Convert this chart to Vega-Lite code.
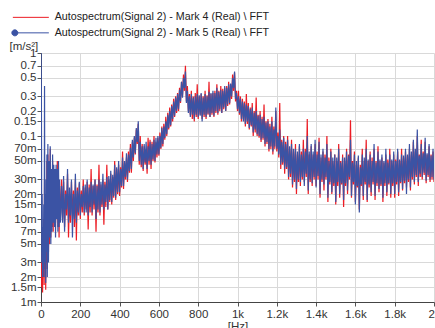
{
  "$schema": "https://vega.github.io/schema/vega-lite/v6.json",
  "width": 393,
  "height": 249,
  "autosize": {"type": "none"},
  "padding": {"left": 41, "top": 53, "right": 1, "bottom": 26},
  "background": "white",
  "config": {
    "view": {"stroke": null},
    "font": "Liberation Sans"
  },
  "data": {
    "values": [
      {"f":0,"r":0.003,"b":1.0},
      {"f":2,"r":0.002,"b":0.3},
      {"f":4,"r":0.0015,"b":0.003},
      {"f":6,"r":0.004,"b":0.02},
      {"f":8,"r":0.0013,"b":0.002},
      {"f":10,"r":0.006,"b":0.008},
      {"f":12,"r":0.002,"b":0.0025},
      {"f":14,"r":0.01,"b":0.015},
      {"f":16,"r":0.0016,"b":0.002},
      {"f":18,"r":0.03,"b":0.4},
      {"f":20,"r":0.0025,"b":0.003},
      {"f":22,"r":0.015,"b":0.02},
      {"f":24,"r":0.0014,"b":0.0017},
      {"f":26,"r":0.012,"b":0.03},
      {"f":28,"r":0.003,"b":0.004},
      {"f":30,"r":0.05,"b":0.06},
      {"f":32,"r":0.0025,"b":0.002},
      {"f":35,"r":0.06,"b":0.08},
      {"f":38,"r":0.004,"b":0.003},
      {"f":41,"r":0.04,"b":0.05},
      {"f":44,"r":0.005,"b":0.006},
      {"f":47,"r":0.07,"b":0.075},
      {"f":50,"r":0.006,"b":0.005},
      {"f":53,"r":0.03,"b":0.04},
      {"f":56,"r":0.008,"b":0.007},
      {"f":59,"r":0.05,"b":0.06},
      {"f":62,"r":0.007,"b":0.009},
      {"f":65,"r":0.04,"b":0.045},
      {"f":68,"r":0.01,"b":0.008},
      {"f":71,"r":0.035,"b":0.04},
      {"f":74,"r":0.009,"b":0.006},
      {"f":77,"r":0.03,"b":0.045},
      {"f":80,"r":0.012,"b":0.01},
      {"f":83,"r":0.05,"b":0.04},
      {"f":86,"r":0.008,"b":0.007},
      {"f":89,"r":0.03,"b":0.05},
      {"f":92,"r":0.006,"b":0.008},
      {"f":95,"r":0.025,"b":0.03},
      {"f":98,"r":0.01,"b":0.009},
      {"f":100,"r":0.012,"b":0.010},
      {"f":105,"r":0.030,"b":0.025},
      {"f":110,"r":0.010,"b":0.009},
      {"f":115,"r":0.028,"b":0.033},
      {"f":120,"r":0.008,"b":0.007},
      {"f":125,"r":0.022,"b":0.020},
      {"f":130,"r":0.011,"b":0.013},
      {"f":135,"r":0.035,"b":0.040},
      {"f":140,"r":0.006,"b":0.009},
      {"f":145,"r":0.020,"b":0.024},
      {"f":150,"r":0.009,"b":0.011},
      {"f":155,"r":0.028,"b":0.030},
      {"f":160,"r":0.010,"b":0.006},
      {"f":165,"r":0.022,"b":0.020},
      {"f":170,"r":0.008,"b":0.010},
      {"f":175,"r":0.030,"b":0.035},
      {"f":180,"r":0.0055,"b":0.009},
      {"f":185,"r":0.024,"b":0.022},
      {"f":190,"r":0.011,"b":0.012},
      {"f":195,"r":0.027,"b":0.028},
      {"f":200,"r":0.010,"b":0.011},
      {"f":205,"r":0.022,"b":0.020},
      {"f":210,"r":0.012,"b":0.014},
      {"f":215,"r":0.030,"b":0.025},
      {"f":220,"r":0.011,"b":0.012},
      {"f":225,"r":0.024,"b":0.026},
      {"f":230,"r":0.013,"b":0.012},
      {"f":235,"r":0.028,"b":0.030},
      {"f":240,"r":0.0075,"b":0.011},
      {"f":245,"r":0.026,"b":0.024},
      {"f":250,"r":0.012,"b":0.014},
      {"f":255,"r":0.040,"b":0.028},
      {"f":260,"r":0.011,"b":0.012},
      {"f":265,"r":0.025,"b":0.026},
      {"f":270,"r":0.013,"b":0.015},
      {"f":275,"r":0.030,"b":0.030},
      {"f":280,"r":0.007,"b":0.010},
      {"f":285,"r":0.026,"b":0.025},
      {"f":290,"r":0.012,"b":0.013},
      {"f":295,"r":0.045,"b":0.030},
      {"f":300,"r":0.011,"b":0.012},
      {"f":305,"r":0.026,"b":0.028},
      {"f":310,"r":0.014,"b":0.015},
      {"f":315,"r":0.030,"b":0.035},
      {"f":320,"r":0.0085,"b":0.013},
      {"f":325,"r":0.028,"b":0.026},
      {"f":330,"r":0.014,"b":0.016},
      {"f":335,"r":0.045,"b":0.032},
      {"f":340,"r":0.013,"b":0.013},
      {"f":345,"r":0.030,"b":0.033},
      {"f":350,"r":0.016,"b":0.017},
      {"f":355,"r":0.035,"b":0.038},
      {"f":360,"r":0.015,"b":0.016},
      {"f":365,"r":0.032,"b":0.034},
      {"f":370,"r":0.018,"b":0.019},
      {"f":375,"r":0.050,"b":0.045},
      {"f":380,"r":0.017,"b":0.018},
      {"f":385,"r":0.040,"b":0.042},
      {"f":390,"r":0.020,"b":0.021},
      {"f":395,"r":0.045,"b":0.050},
      {"f":400,"r":0.019,"b":0.021},
      {"f":405,"r":0.042,"b":0.040},
      {"f":410,"r":0.024,"b":0.025},
      {"f":415,"r":0.065,"b":0.055},
      {"f":420,"r":0.023,"b":0.025},
      {"f":425,"r":0.048,"b":0.050},
      {"f":430,"r":0.030,"b":0.032},
      {"f":435,"r":0.055,"b":0.062},
      {"f":440,"r":0.028,"b":0.030},
      {"f":445,"r":0.065,"b":0.060},
      {"f":450,"r":0.036,"b":0.038},
      {"f":455,"r":0.080,"b":0.072},
      {"f":460,"r":0.036,"b":0.040},
      {"f":465,"r":0.085,"b":0.090},
      {"f":470,"r":0.050,"b":0.055},
      {"f":475,"r":0.095,"b":0.100},
      {"f":480,"r":0.060,"b":0.062},
      {"f":485,"r":0.120,"b":0.125},
      {"f":490,"r":0.080,"b":0.085},
      {"f":495,"r":0.140,"b":0.150},
      {"f":500,"r":0.045,"b":0.050},
      {"f":505,"r":0.100,"b":0.085},
      {"f":510,"r":0.042,"b":0.045},
      {"f":515,"r":0.080,"b":0.075},
      {"f":520,"r":0.038,"b":0.040},
      {"f":525,"r":0.075,"b":0.080},
      {"f":530,"r":0.045,"b":0.048},
      {"f":535,"r":0.070,"b":0.085},
      {"f":540,"r":0.035,"b":0.040},
      {"f":545,"r":0.095,"b":0.075},
      {"f":550,"r":0.045,"b":0.050},
      {"f":555,"r":0.090,"b":0.085},
      {"f":560,"r":0.040,"b":0.045},
      {"f":565,"r":0.085,"b":0.080},
      {"f":570,"r":0.050,"b":0.052},
      {"f":575,"r":0.100,"b":0.090},
      {"f":580,"r":0.048,"b":0.050},
      {"f":585,"r":0.085,"b":0.095},
      {"f":590,"r":0.055,"b":0.060},
      {"f":595,"r":0.095,"b":0.100},
      {"f":600,"r":0.058,"b":0.060},
      {"f":605,"r":0.110,"b":0.100},
      {"f":610,"r":0.070,"b":0.072},
      {"f":615,"r":0.130,"b":0.125},
      {"f":620,"r":0.075,"b":0.080},
      {"f":625,"r":0.140,"b":0.130},
      {"f":630,"r":0.090,"b":0.095},
      {"f":635,"r":0.170,"b":0.150},
      {"f":640,"r":0.100,"b":0.105},
      {"f":645,"r":0.190,"b":0.180},
      {"f":650,"r":0.120,"b":0.125},
      {"f":655,"r":0.220,"b":0.200},
      {"f":660,"r":0.130,"b":0.135},
      {"f":665,"r":0.240,"b":0.230},
      {"f":670,"r":0.150,"b":0.160},
      {"f":675,"r":0.280,"b":0.260},
      {"f":680,"r":0.170,"b":0.175},
      {"f":685,"r":0.300,"b":0.290},
      {"f":690,"r":0.190,"b":0.200},
      {"f":695,"r":0.330,"b":0.320},
      {"f":700,"r":0.200,"b":0.210},
      {"f":705,"r":0.380,"b":0.360},
      {"f":710,"r":0.250,"b":0.260},
      {"f":715,"r":0.450,"b":0.450},
      {"f":720,"r":0.300,"b":0.290},
      {"f":725,"r":0.550,"b":0.500},
      {"f":730,"r":0.350,"b":0.380},
      {"f":735,"r":0.700,"b":0.600},
      {"f":740,"r":0.260,"b":0.250},
      {"f":745,"r":0.400,"b":0.350},
      {"f":750,"r":0.200,"b":0.190},
      {"f":755,"r":0.320,"b":0.300},
      {"f":760,"r":0.180,"b":0.170},
      {"f":765,"r":0.350,"b":0.320},
      {"f":770,"r":0.160,"b":0.180},
      {"f":775,"r":0.300,"b":0.290},
      {"f":780,"r":0.150,"b":0.160},
      {"f":785,"r":0.330,"b":0.300},
      {"f":790,"r":0.170,"b":0.180},
      {"f":795,"r":0.420,"b":0.320},
      {"f":800,"r":0.160,"b":0.170},
      {"f":805,"r":0.300,"b":0.310},
      {"f":810,"r":0.180,"b":0.175},
      {"f":815,"r":0.320,"b":0.330},
      {"f":820,"r":0.160,"b":0.150},
      {"f":825,"r":0.300,"b":0.290},
      {"f":830,"r":0.170,"b":0.180},
      {"f":835,"r":0.350,"b":0.320},
      {"f":840,"r":0.160,"b":0.170},
      {"f":845,"r":0.310,"b":0.300},
      {"f":850,"r":0.180,"b":0.185},
      {"f":855,"r":0.450,"b":0.340},
      {"f":860,"r":0.170,"b":0.170},
      {"f":865,"r":0.320,"b":0.330},
      {"f":870,"r":0.180,"b":0.190},
      {"f":875,"r":0.330,"b":0.350},
      {"f":880,"r":0.170,"b":0.175},
      {"f":885,"r":0.350,"b":0.330},
      {"f":890,"r":0.190,"b":0.200},
      {"f":895,"r":0.420,"b":0.380},
      {"f":900,"r":0.180,"b":0.190},
      {"f":905,"r":0.350,"b":0.340},
      {"f":910,"r":0.200,"b":0.210},
      {"f":915,"r":0.400,"b":0.360},
      {"f":920,"r":0.190,"b":0.190},
      {"f":925,"r":0.370,"b":0.350},
      {"f":930,"r":0.210,"b":0.220},
      {"f":935,"r":0.380,"b":0.400},
      {"f":940,"r":0.200,"b":0.200},
      {"f":945,"r":0.400,"b":0.380},
      {"f":950,"r":0.230,"b":0.240},
      {"f":955,"r":0.450,"b":0.420},
      {"f":960,"r":0.240,"b":0.250},
      {"f":965,"r":0.420,"b":0.430},
      {"f":970,"r":0.280,"b":0.300},
      {"f":975,"r":0.550,"b":0.500},
      {"f":980,"r":0.350,"b":0.380},
      {"f":985,"r":0.580,"b":0.600},
      {"f":990,"r":0.260,"b":0.280},
      {"f":995,"r":0.350,"b":0.330},
      {"f":1000,"r":0.200,"b":0.210},
      {"f":1005,"r":0.350,"b":0.300},
      {"f":1010,"r":0.180,"b":0.190},
      {"f":1015,"r":0.300,"b":0.280},
      {"f":1020,"r":0.150,"b":0.160},
      {"f":1025,"r":0.280,"b":0.260},
      {"f":1030,"r":0.160,"b":0.150},
      {"f":1035,"r":0.260,"b":0.250},
      {"f":1040,"r":0.130,"b":0.140},
      {"f":1045,"r":0.320,"b":0.240},
      {"f":1050,"r":0.140,"b":0.150},
      {"f":1055,"r":0.250,"b":0.230},
      {"f":1060,"r":0.120,"b":0.125},
      {"f":1065,"r":0.220,"b":0.210},
      {"f":1070,"r":0.130,"b":0.135},
      {"f":1075,"r":0.250,"b":0.220},
      {"f":1080,"r":0.100,"b":0.110},
      {"f":1085,"r":0.200,"b":0.190},
      {"f":1090,"r":0.110,"b":0.120},
      {"f":1095,"r":0.290,"b":0.200},
      {"f":1100,"r":0.100,"b":0.105},
      {"f":1105,"r":0.180,"b":0.175},
      {"f":1110,"r":0.095,"b":0.100},
      {"f":1115,"r":0.200,"b":0.180},
      {"f":1120,"r":0.085,"b":0.090},
      {"f":1125,"r":0.170,"b":0.160},
      {"f":1130,"r":0.090,"b":0.095},
      {"f":1135,"r":0.240,"b":0.170},
      {"f":1140,"r":0.075,"b":0.080},
      {"f":1145,"r":0.150,"b":0.145},
      {"f":1150,"r":0.080,"b":0.085},
      {"f":1155,"r":0.160,"b":0.150},
      {"f":1160,"r":0.065,"b":0.070},
      {"f":1165,"r":0.140,"b":0.130},
      {"f":1170,"r":0.070,"b":0.075},
      {"f":1175,"r":0.170,"b":0.150},
      {"f":1180,"r":0.060,"b":0.065},
      {"f":1185,"r":0.130,"b":0.120},
      {"f":1190,"r":0.070,"b":0.075},
      {"f":1195,"r":0.200,"b":0.220},
      {"f":1200,"r":0.065,"b":0.070},
      {"f":1205,"r":0.110,"b":0.100},
      {"f":1210,"r":0.055,"b":0.060},
      {"f":1215,"r":0.250,"b":0.120},
      {"f":1220,"r":0.040,"b":0.045},
      {"f":1225,"r":0.090,"b":0.085},
      {"f":1230,"r":0.045,"b":0.048},
      {"f":1235,"r":0.100,"b":0.095},
      {"f":1240,"r":0.035,"b":0.040},
      {"f":1245,"r":0.085,"b":0.080},
      {"f":1250,"r":0.040,"b":0.042},
      {"f":1255,"r":0.100,"b":0.090},
      {"f":1260,"r":0.030,"b":0.032},
      {"f":1265,"r":0.070,"b":0.075},
      {"f":1270,"r":0.032,"b":0.035},
      {"f":1275,"r":0.090,"b":0.080},
      {"f":1280,"r":0.024,"b":0.026},
      {"f":1285,"r":0.065,"b":0.070},
      {"f":1290,"r":0.028,"b":0.030},
      {"f":1295,"r":0.080,"b":0.070},
      {"f":1300,"r":0.020,"b":0.023},
      {"f":1305,"r":0.060,"b":0.065},
      {"f":1310,"r":0.028,"b":0.030},
      {"f":1315,"r":0.075,"b":0.080},
      {"f":1320,"r":0.025,"b":0.028},
      {"f":1325,"r":0.065,"b":0.060},
      {"f":1330,"r":0.030,"b":0.032},
      {"f":1335,"r":0.090,"b":0.070},
      {"f":1340,"r":0.028,"b":0.025},
      {"f":1345,"r":0.070,"b":0.065},
      {"f":1350,"r":0.032,"b":0.035},
      {"f":1355,"r":0.160,"b":0.100},
      {"f":1360,"r":0.020,"b":0.022},
      {"f":1365,"r":0.060,"b":0.065},
      {"f":1370,"r":0.028,"b":0.030},
      {"f":1375,"r":0.075,"b":0.080},
      {"f":1380,"r":0.025,"b":0.027},
      {"f":1385,"r":0.060,"b":0.065},
      {"f":1390,"r":0.030,"b":0.032},
      {"f":1395,"r":0.080,"b":0.090},
      {"f":1400,"r":0.025,"b":0.024},
      {"f":1405,"r":0.065,"b":0.060},
      {"f":1410,"r":0.030,"b":0.033},
      {"f":1415,"r":0.095,"b":0.085},
      {"f":1420,"r":0.018,"b":0.020},
      {"f":1425,"r":0.055,"b":0.060},
      {"f":1430,"r":0.028,"b":0.030},
      {"f":1435,"r":0.065,"b":0.070},
      {"f":1440,"r":0.022,"b":0.026},
      {"f":1445,"r":0.060,"b":0.055},
      {"f":1450,"r":0.030,"b":0.032},
      {"f":1455,"r":0.100,"b":0.080},
      {"f":1460,"r":0.016,"b":0.018},
      {"f":1465,"r":0.055,"b":0.050},
      {"f":1470,"r":0.026,"b":0.028},
      {"f":1475,"r":0.070,"b":0.065},
      {"f":1480,"r":0.020,"b":0.021},
      {"f":1485,"r":0.050,"b":0.055},
      {"f":1490,"r":0.025,"b":0.027},
      {"f":1495,"r":0.060,"b":0.060},
      {"f":1500,"r":0.015,"b":0.016},
      {"f":1505,"r":0.050,"b":0.055},
      {"f":1510,"r":0.025,"b":0.028},
      {"f":1515,"r":0.080,"b":0.070},
      {"f":1520,"r":0.018,"b":0.020},
      {"f":1525,"r":0.050,"b":0.048},
      {"f":1530,"r":0.026,"b":0.027},
      {"f":1535,"r":0.060,"b":0.055},
      {"f":1540,"r":0.014,"b":0.017},
      {"f":1545,"r":0.050,"b":0.055},
      {"f":1550,"r":0.025,"b":0.027},
      {"f":1555,"r":0.070,"b":0.065},
      {"f":1560,"r":0.020,"b":0.022},
      {"f":1565,"r":0.060,"b":0.058},
      {"f":1570,"r":0.030,"b":0.032},
      {"f":1575,"r":0.155,"b":0.090},
      {"f":1580,"r":0.018,"b":0.019},
      {"f":1585,"r":0.050,"b":0.048},
      {"f":1590,"r":0.026,"b":0.028},
      {"f":1595,"r":0.065,"b":0.060},
      {"f":1600,"r":0.016,"b":0.015},
      {"f":1605,"r":0.045,"b":0.050},
      {"f":1610,"r":0.024,"b":0.025},
      {"f":1615,"r":0.055,"b":0.058},
      {"f":1620,"r":0.013,"b":0.012},
      {"f":1625,"r":0.045,"b":0.042},
      {"f":1630,"r":0.025,"b":0.026},
      {"f":1635,"r":0.070,"b":0.060},
      {"f":1640,"r":0.017,"b":0.019},
      {"f":1645,"r":0.050,"b":0.055},
      {"f":1650,"r":0.026,"b":0.028},
      {"f":1655,"r":0.090,"b":0.070},
      {"f":1660,"r":0.016,"b":0.017},
      {"f":1665,"r":0.050,"b":0.052},
      {"f":1670,"r":0.024,"b":0.026},
      {"f":1675,"r":0.065,"b":0.060},
      {"f":1680,"r":0.019,"b":0.021},
      {"f":1685,"r":0.055,"b":0.050},
      {"f":1690,"r":0.026,"b":0.028},
      {"f":1695,"r":0.070,"b":0.080},
      {"f":1700,"r":0.017,"b":0.019},
      {"f":1705,"r":0.050,"b":0.048},
      {"f":1710,"r":0.025,"b":0.027},
      {"f":1715,"r":0.075,"b":0.065},
      {"f":1720,"r":0.021,"b":0.023},
      {"f":1725,"r":0.050,"b":0.052},
      {"f":1730,"r":0.025,"b":0.026},
      {"f":1735,"r":0.055,"b":0.060},
      {"f":1740,"r":0.016,"b":0.018},
      {"f":1745,"r":0.048,"b":0.050},
      {"f":1750,"r":0.025,"b":0.027},
      {"f":1755,"r":0.060,"b":0.070},
      {"f":1760,"r":0.019,"b":0.021},
      {"f":1765,"r":0.052,"b":0.048},
      {"f":1770,"r":0.026,"b":0.027},
      {"f":1775,"r":0.070,"b":0.060},
      {"f":1780,"r":0.018,"b":0.020},
      {"f":1785,"r":0.050,"b":0.052},
      {"f":1790,"r":0.025,"b":0.027},
      {"f":1795,"r":0.060,"b":0.065},
      {"f":1800,"r":0.018,"b":0.020},
      {"f":1805,"r":0.052,"b":0.050},
      {"f":1810,"r":0.026,"b":0.028},
      {"f":1815,"r":0.065,"b":0.070},
      {"f":1820,"r":0.019,"b":0.021},
      {"f":1825,"r":0.050,"b":0.052},
      {"f":1830,"r":0.027,"b":0.028},
      {"f":1835,"r":0.070,"b":0.060},
      {"f":1840,"r":0.022,"b":0.023},
      {"f":1845,"r":0.055,"b":0.058},
      {"f":1850,"r":0.027,"b":0.029},
      {"f":1855,"r":0.065,"b":0.070},
      {"f":1860,"r":0.024,"b":0.020},
      {"f":1865,"r":0.058,"b":0.060},
      {"f":1870,"r":0.028,"b":0.030},
      {"f":1875,"r":0.070,"b":0.080},
      {"f":1880,"r":0.022,"b":0.024},
      {"f":1885,"r":0.060,"b":0.065},
      {"f":1890,"r":0.030,"b":0.032},
      {"f":1895,"r":0.085,"b":0.090},
      {"f":1900,"r":0.026,"b":0.028},
      {"f":1905,"r":0.065,"b":0.070},
      {"f":1910,"r":0.032,"b":0.034},
      {"f":1915,"r":0.100,"b":0.120},
      {"f":1920,"r":0.025,"b":0.028},
      {"f":1925,"r":0.060,"b":0.058},
      {"f":1930,"r":0.032,"b":0.035},
      {"f":1935,"r":0.090,"b":0.080},
      {"f":1940,"r":0.030,"b":0.032},
      {"f":1945,"r":0.065,"b":0.062},
      {"f":1950,"r":0.034,"b":0.036},
      {"f":1955,"r":0.085,"b":0.095},
      {"f":1960,"r":0.027,"b":0.029},
      {"f":1965,"r":0.060,"b":0.062},
      {"f":1970,"r":0.032,"b":0.034},
      {"f":1975,"r":0.075,"b":0.080},
      {"f":1980,"r":0.028,"b":0.030},
      {"f":1985,"r":0.060,"b":0.058},
      {"f":1990,"r":0.030,"b":0.032},
      {"f":1995,"r":0.065,"b":0.070},
      {"f":2000,"r":0.028,"b":0.030}
    ]
  },
  "transform": [
    {"fold": ["r", "b"], "as": ["series", "value"]}
  ],
  "mark": {"type": "line", "strokeWidth": 1.2, "clip": true},
  "encoding": {
    "x": {
      "field": "f",
      "type": "quantitative",
      "scale": {"domain": [0, 2000], "nice": false, "zero": false},
      "axis": {
        "values": [0, 200, 400, 600, 800, 1000, 1200, 1400, 1600, 1800, 2000],
        "labelExpr": "datum.value >= 1000 ? format(datum.value / 1000, '~g') + 'k' : format(datum.value, 'd')",
        "title": "[Hz]",
        "titleFont": "Liberation Sans",
        "titleFontSize": 11.5,
        "titleFontWeight": "normal",
        "titleColor": "#333333",
        "titleBaseline": "top",
        "titleY": 18,
        "labelFontSize": 11.5,
        "labelColor": "#333333",
        "labelPadding": 2,
        "labelFlush": false,
        "labelOverlap": false,
        "tickSize": 4,
        "tickColor": "#555555",
        "domainColor": "#444444",
        "gridColor": "#d9d9d9",
        "gridWidth": 1,
        "grid": true
      }
    },
    "y": {
      "field": "value",
      "type": "quantitative",
      "scale": {"type": "log", "domain": [0.001, 1], "nice": false},
      "axis": {
        "values": [0.001, 0.0015, 0.002, 0.003, 0.005, 0.007, 0.01, 0.015, 0.02, 0.03, 0.05, 0.07, 0.1, 0.15, 0.2, 0.3, 0.5, 0.7, 1],
        "labelExpr": "datum.value >= 0.1 ? format(datum.value, '~g') : format(datum.value * 1000, '~g') + 'm'",
        "title": "[m/s²]",
        "titleFont": "Liberation Sans",
        "titleFontSize": 11.5,
        "titleFontWeight": "normal",
        "titleColor": "#333333",
        "titleAngle": 0,
        "titleAlign": "left",
        "titleBaseline": "middle",
        "titleX": -32,
        "titleY": -7,
        "labelFontSize": 11.5,
        "labelColor": "#333333",
        "labelPadding": 1,
        "labelOverlap": false,
        "labelFlush": false,
        "tickSize": 4,
        "tickColor": "#555555",
        "domainColor": "#444444",
        "gridColor": "#d9d9d9",
        "gridWidth": 1,
        "grid": true,
        "encode": {
          "labels": {
            "update": {
              "baseline": {"signal": "datum.value >= 1 ? 'top' : 'middle'"}
            }
          }
        }
      }
    },
    "color": {
      "field": "series",
      "type": "nominal",
      "scale": {"domain": ["r", "b"], "range": ["#ec1c24", "#3b53a4"]},
      "legend": {
        "orient": "none",
        "legendX": -15.5,
        "legendY": -41,
        "title": null,
        "padding": 0,
        "rowPadding": 3.5,
        "symbolSize": 64,
        "symbolStrokeWidth": 1,
        "labelOffset": 18.5,
        "labelLimit": 400,
        "labelFont": "Liberation Sans",
        "labelFontSize": 10.7,
        "labelColor": "#222222",
        "labelExpr": "datum.value == 'r' ? 'Autospectrum(Signal 2) - Mark 4 (Real) \\\\ FFT' : 'Autospectrum(Signal 2) - Mark 5 (Real) \\\\ FFT'",
        "encode": {
          "symbols": {
            "update": {
              "shape": {"signal": "datum.value == 'b' ? 'M-4.5,0L4.5,0M-4.75,0A0.75,0.75 0 1,1 -3.25,0A0.75,0.75 0 1,1 -4.75,0Z' : 'M-4.5,0L4.5,0'"},
              "fill": {"signal": "datum.value == 'b' ? '#3b53a4' : 'transparent'"}
            }
          }
        }
      }
    }
  }
}
